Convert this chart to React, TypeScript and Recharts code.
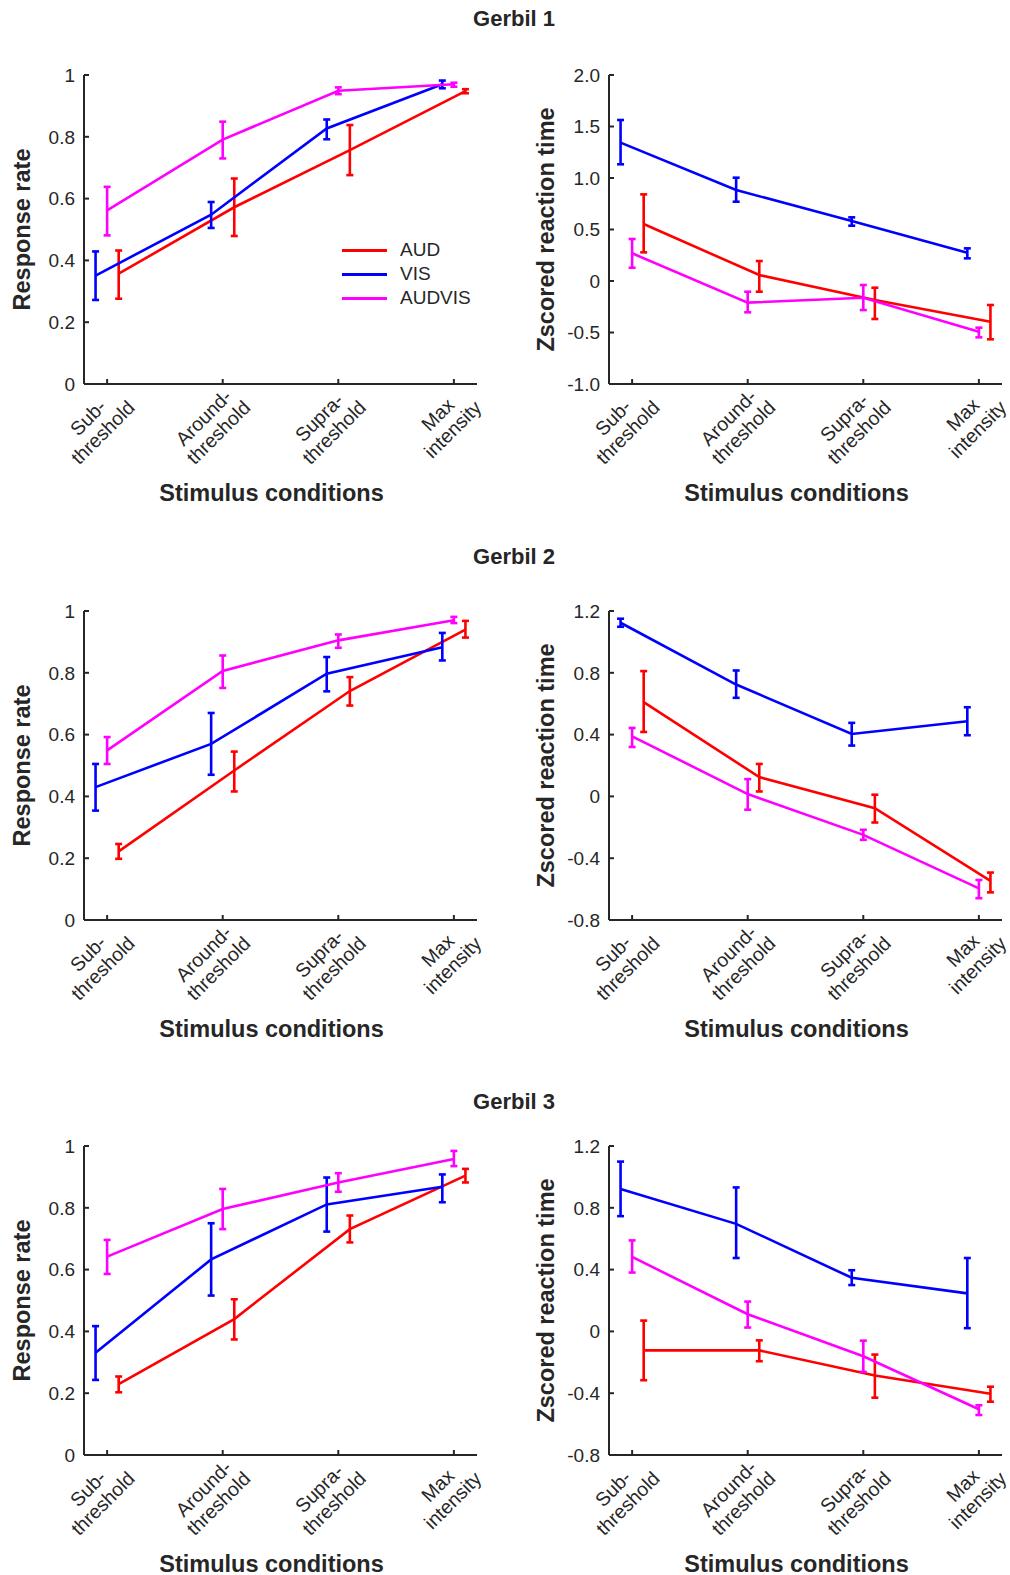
import { LineChart, Line, XAxis, YAxis, ErrorBar, Legend } from 'recharts';

// stimulus categories (two-line tick labels)
const CATEGORIES = [
  ['Sub-', 'threshold'],
  ['Around-', 'threshold'],
  ['Supra-', 'threshold'],
  ['Max', 'intensity'],
];
const CATEGORY_INDEX = [0, 1, 2, 3];

const SERIES_NAMES = ['AUD', 'VIS', 'AUDVIS'];
const SERIES_COLORS = ['#ff0000', '#0000ff', '#ff00ff'];
const SERIES_DODGE = [0.1, -0.1, 0];

const GERBILS = ['Gerbil 1', 'Gerbil 2', 'Gerbil 3'];

const RATE_TICKS = [0, 0.2, 0.4, 0.6, 0.8, 1];
const RT_TICKS_G1 = [-1, -0.5, 0, 0.5, 1, 1.5, 2];
const RT_TICKS_G23 = [-0.8, -0.4, 0, 0.4, 0.8, 1.2];

// each entry: [mean, errorbar low, errorbar high]
const G1_RATE_AUD = [[0.357, 0.276, 0.432], [0.572, 0.479, 0.665], [0.757, 0.676, 0.838], [0.948, 0.941, 0.954]];
const G1_RATE_VIS = [[0.351, 0.272, 0.429], [0.548, 0.505, 0.589], [0.827, 0.792, 0.856], [0.970, 0.957, 0.982]];
const G1_RATE_AUDVIS = [[0.562, 0.481, 0.638], [0.791, 0.730, 0.849], [0.949, 0.938, 0.960], [0.970, 0.962, 0.975]];

const G1_RT_AUD = [[0.553, 0.278, 0.841], [0.058, -0.104, 0.194], [-0.184, -0.369, -0.065], [-0.395, -0.566, -0.233]];
const G1_RT_VIS = [[1.343, 1.133, 1.563], [0.883, 0.770, 1.003], [0.583, 0.537, 0.618], [0.275, 0.220, 0.317]];
const G1_RT_AUDVIS = [[0.269, 0.129, 0.408], [-0.210, -0.304, -0.104], [-0.162, -0.282, -0.039], [-0.492, -0.547, -0.453]];

const G2_RATE_AUD = [[0.222, 0.198, 0.246], [0.484, 0.416, 0.545], [0.741, 0.694, 0.786], [0.940, 0.914, 0.968]];
const G2_RATE_VIS = [[0.430, 0.354, 0.505], [0.570, 0.470, 0.670], [0.797, 0.740, 0.851], [0.883, 0.840, 0.929]];
const G2_RATE_AUDVIS = [[0.549, 0.505, 0.592], [0.806, 0.751, 0.856], [0.905, 0.881, 0.924], [0.970, 0.961, 0.981]];

const G2_RT_AUD = [[0.610, 0.417, 0.811], [0.125, 0.032, 0.210], [-0.076, -0.169, 0.011], [-0.547, -0.621, -0.493]];
const G2_RT_VIS = [[1.124, 1.098, 1.150], [0.724, 0.638, 0.815], [0.404, 0.329, 0.476], [0.486, 0.396, 0.577]];
const G2_RT_AUDVIS = [[0.389, 0.320, 0.443], [0.015, -0.086, 0.112], [-0.249, -0.281, -0.216], [-0.595, -0.659, -0.541]];

const G3_RATE_AUD = [[0.229, 0.203, 0.254], [0.440, 0.374, 0.504], [0.731, 0.688, 0.775], [0.904, 0.882, 0.926]];
const G3_RATE_VIS = [[0.331, 0.243, 0.417], [0.633, 0.516, 0.750], [0.811, 0.723, 0.898], [0.868, 0.818, 0.908]];
const G3_RATE_AUDVIS = [[0.642, 0.586, 0.696], [0.796, 0.731, 0.861], [0.882, 0.852, 0.912], [0.958, 0.935, 0.984]];

const G3_RT_AUD = [[-0.123, -0.316, 0.070], [-0.123, -0.193, -0.058], [-0.286, -0.429, -0.150], [-0.403, -0.455, -0.358]];
const G3_RT_VIS = [[0.921, 0.746, 1.099], [0.696, 0.475, 0.932], [0.347, 0.300, 0.396], [0.246, 0.021, 0.475]];
const G3_RT_AUDVIS = [[0.482, 0.381, 0.589], [0.111, 0.025, 0.193], [-0.161, -0.262, -0.060], [-0.504, -0.541, -0.478]];

const FONT = "'Liberation Sans', Arial, Helvetica, sans-serif";
const INK = '#262626';
const TICK_FONT = 19;
const CAT_FONT = 19.5;
const LINE_H = 21;

// layout
const ROW_TOPS = [75, 611, 1146];
const TITLE_Y = [19, 557, 1102];
const PLOT_H = 309;
const PLOT_W = 393;

let measureCtx: CanvasRenderingContext2D | null = null;
function textWidth(s: string) {
  if (!measureCtx && typeof document !== 'undefined') {
    measureCtx = document.createElement('canvas').getContext('2d');
  }
  if (!measureCtx) return s.length * 10;
  measureCtx.font = `${CAT_FONT}px ${FONT}`;
  return measureCtx.measureText(s).width;
}

const toPoints = (vals: number[][], dodge: number) =>
  vals.map(([m, lo, hi], i) => ({ x: CATEGORY_INDEX[i] + dodge, y: m, err: [m - lo, hi - m] }));

const rateFmt = (v: number) => (v === 0 || v === 1 ? String(v) : v.toFixed(1));
const rtFmt = (v: number) => (v === 0 ? '0' : v.toFixed(1));

function CategoryTick(props: any) {
  const { x, y, payload } = props;
  const lines = CATEGORIES[payload.value];
  if (!lines) return null;
  const w = Math.max(...lines.map(textWidth));
  return (
    <text
      transform={`translate(${x + 14},${y + 10}) rotate(-45)`}
      fontSize={CAT_FONT}
      fontFamily={FONT}
      fill={INK}
      textAnchor="middle"
    >
      {lines.map((l, i) => (
        <tspan key={i} x={-w / 2} y={i * LINE_H}>
          {l}
        </tspan>
      ))}
    </text>
  );
}

const renderLegend = () => (
  <div style={{ fontFamily: FONT, fontSize: 19, color: INK }}>
    {SERIES_NAMES.map((n, i) => (
      <div key={n} style={{ display: 'flex', alignItems: 'center', height: 24.2 }}>
        <div style={{ width: 45, height: 3, background: SERIES_COLORS[i], marginRight: 13 }} />
        <span>{n}</span>
      </div>
    ))}
  </div>
);

interface PanelProps {
  left: number;
  plotTop: number;
  yAxisWidth: number;
  marginRight: number;
  yLabel: string;
  yLabelX: number;
  ticks: number[];
  fmt: (v: number) => string;
  series: number[][][];
  showLegend?: boolean;
}

function Panel({ left, plotTop, yAxisWidth, marginRight, yLabel, yLabelX, ticks, fmt, series, showLegend }: PanelProps) {
  const top = plotTop - 20;
  const width = yAxisWidth + PLOT_W + marginRight;
  const height = 20 + PLOT_H + 60 + 100;
  return (
    <div style={{ position: 'absolute', left, top }}>
      <LineChart width={width} height={height} margin={{ top: 20, right: marginRight, bottom: 100, left: 0 }}>
        <XAxis
          type="number"
          dataKey="x"
          domain={[-0.2, 3.2]}
          ticks={CATEGORY_INDEX}
          allowDataOverflow
          height={60}
          interval={0}
          tickSize={-5}
          tickMargin={5}
          axisLine={{ stroke: INK, strokeWidth: 2 }}
          tickLine={{ stroke: INK, strokeWidth: 2 }}
          tick={<CategoryTick />}
          label={{
            content: ({ viewBox }: any) => (
              <text
                x={viewBox.x + viewBox.width / 2 - 9}
                y={viewBox.y + 109}
                textAnchor="middle"
                dominantBaseline="central"
                fontFamily={FONT}
                fontWeight="bold"
                fontSize={23.5}
                fill={INK}
              >
                Stimulus conditions
              </text>
            ),
          }}
        />
        <YAxis
          type="number"
          domain={[ticks[0], ticks[ticks.length - 1]]}
          ticks={ticks}
          allowDataOverflow
          width={yAxisWidth}
          interval={0}
          tickSize={-5}
          tickMargin={14}
          tickFormatter={fmt}
          axisLine={{ stroke: INK, strokeWidth: 2 }}
          tickLine={{ stroke: INK, strokeWidth: 2 }}
          tick={{ fontSize: TICK_FONT, fontFamily: FONT, fill: INK }}
          label={{
            content: ({ viewBox }: any) => {
              const cy = viewBox.y + viewBox.height / 2;
              return (
                <text
                  x={yLabelX}
                  y={cy}
                  transform={`rotate(-90, ${yLabelX}, ${cy})`}
                  textAnchor="middle"
                  dominantBaseline="central"
                  fontFamily={FONT}
                  fontWeight="bold"
                  fontSize={23.5}
                  fill={INK}
                >
                  {yLabel}
                </text>
              );
            },
          }}
        />
        {showLegend && (
          <Legend
            layout="vertical"
            align="center"
            verticalAlign="middle"
            content={renderLegend}
            wrapperStyle={{ left: 342, top: 183, width: 160 }}
          />
        )}
        {series.map((vals, i) => (
          <Line
            key={SERIES_NAMES[i]}
            name={SERIES_NAMES[i]}
            data={toPoints(vals, SERIES_DODGE[i])}
            dataKey="y"
            type="linear"
            stroke={SERIES_COLORS[i]}
            strokeWidth={2.6}
            dot={false}
            activeDot={false}
            isAnimationActive={false}
          >
            <ErrorBar dataKey="err" direction="y" width={3.5} stroke={SERIES_COLORS[i]} strokeWidth={2.6} isAnimationActive={false} />
          </Line>
        ))}
      </LineChart>
    </div>
  );
}

const RATE_SERIES = [
  [G1_RATE_AUD, G1_RATE_VIS, G1_RATE_AUDVIS],
  [G2_RATE_AUD, G2_RATE_VIS, G2_RATE_AUDVIS],
  [G3_RATE_AUD, G3_RATE_VIS, G3_RATE_AUDVIS],
];
const RT_SERIES = [
  [G1_RT_AUD, G1_RT_VIS, G1_RT_AUDVIS],
  [G2_RT_AUD, G2_RT_VIS, G2_RT_AUDVIS],
  [G3_RT_AUD, G3_RT_VIS, G3_RT_AUDVIS],
];
const RT_TICKS = [RT_TICKS_G1, RT_TICKS_G23, RT_TICKS_G23];

export default function App() {
  return (
    <div
      style={{
        position: 'absolute',
        left: 0,
        top: 0,
        width: 1010,
        height: 1575,
        background: '#fff',
        overflow: 'hidden',
        fontFamily: FONT,
      }}
    >
      {GERBILS.map((g, r) => (
        <div key={g}>
          <div
            style={{
              position: 'absolute',
              left: 314,
              width: 400,
              top: TITLE_Y[r] - 13,
              height: 26,
              lineHeight: '26px',
              textAlign: 'center',
              fontWeight: 'bold',
              fontSize: 22,
              color: INK,
            }}
          >
            {g}
          </div>
          <Panel
            left={0}
            plotTop={ROW_TOPS[r]}
            yAxisWidth={84}
            marginRight={28}
            yLabel="Response rate"
            yLabelX={22}
            ticks={RATE_TICKS}
            fmt={rateFmt}
            series={RATE_SERIES[r]}
            showLegend={r === 0}
          />
          <Panel
            left={520}
            plotTop={ROW_TOPS[r]}
            yAxisWidth={89}
            marginRight={8}
            yLabel="Zscored reaction time"
            yLabelX={25.5}
            ticks={RT_TICKS[r]}
            fmt={rtFmt}
            series={RT_SERIES[r]}
          />
        </div>
      ))}
    </div>
  );
}
